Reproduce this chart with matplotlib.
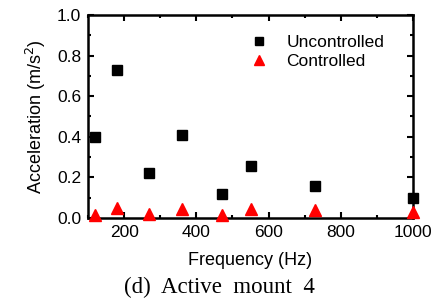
import matplotlib
matplotlib.use("Agg")
import matplotlib.pyplot as plt
from matplotlib.ticker import MultipleLocator, FuncFormatter

freq = [120, 180, 270, 360, 470, 550, 730, 1000]
uncontrolled = [0.40, 0.73, 0.22, 0.41, 0.12, 0.255, 0.16, 0.10]
controlled = [0.015, 0.05, 0.02, 0.046, 0.015, 0.045, 0.038, 0.03]

plt.rcParams['font.family'] = ['Liberation Sans', 'DejaVu Sans']
fig = plt.figure(figsize=(4.39, 3.0), dpi=100)
ax = fig.add_axes([88/439, 1-218/300, (413-88)/439, (218-15)/300])

ax.plot(freq, uncontrolled, 's', color='black', markersize=6.5, label='Uncontrolled', clip_on=False, zorder=3)
ax.plot(freq, controlled, '^', color='red', markersize=8, label='Controlled', clip_on=False, zorder=3)

ax.set_xlim(100, 1000)
ax.set_ylim(0, 1.0)
ax.xaxis.set_major_locator(MultipleLocator(200))
ax.xaxis.set_minor_locator(MultipleLocator(100))
ax.yaxis.set_major_locator(MultipleLocator(0.2))
ax.yaxis.set_minor_locator(MultipleLocator(0.1))
ax.xaxis.set_major_formatter(FuncFormatter(lambda v, p: f"{int(v)}"))
ax.yaxis.set_major_formatter(FuncFormatter(lambda v, p: f"{v:.1f}"))
ax.tick_params(which='both', direction='in', top=True, right=True, width=1.5, labelsize=12.5)
ax.tick_params(which='major', length=4, pad=5)
ax.tick_params(which='minor', length=2.5)
for s in ax.spines.values():
    s.set_linewidth(1.8)

ax.set_xlabel('Frequency (Hz)', fontsize=13, labelpad=9)
ax.set_ylabel('Acceleration (m/s$^2$)', fontsize=13, labelpad=6)

ax.legend(loc='upper left', frameon=False, fontsize=12.5, bbox_to_anchor=(0.44, 0.955),
          handletextpad=0.6, borderaxespad=0.2, labelspacing=0.25, markerscale=0.9)

fig.text(0.5, 1-287/300, '(d)  Active  mount  4', ha='center', va='center',
         fontsize=16.5, family='Liberation Serif')

fig.savefig('out.png', dpi=100)
